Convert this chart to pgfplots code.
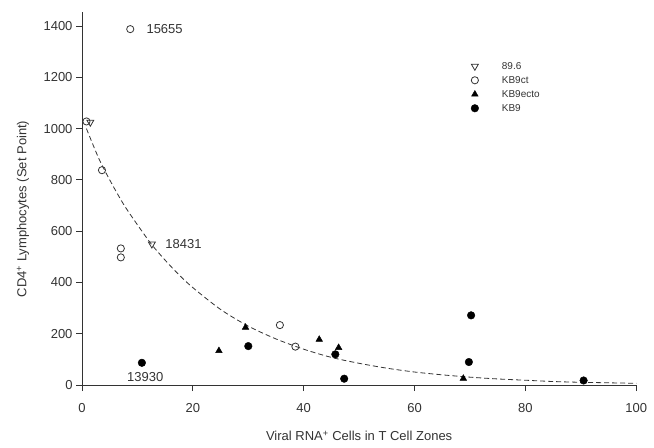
\documentclass[border=0pt]{standalone}
\usepackage{pgfplots}
\pgfplotsset{compat=1.18}
\usepackage{fontspec}
\setmainfont{Liberation Sans}
\definecolor{inkgray}{HTML}{333333}
\newcommand{\lblfont}{\fontsize{13}{15}\selectfont}

\begin{document}
\begin{tikzpicture}
\begin{axis}[
    scale only axis,
    width=554pt, height=373pt,
    xmin=0, xmax=100, ymin=0, ymax=1455,
    axis lines=left,
    axis line style={-, inkgray, line width=0.9pt},
    xtick={0,20,...,100}, ytick={0,200,...,1400},
    tick align=outside,
    major tick length=6pt,
    tick style={inkgray, line width=0.9pt},
    tick label style={font=\lblfont, text=inkgray},
    /pgf/number format/assume math mode=true,
    /pgf/number format/1000 sep={},
    xticklabel style={yshift=-9pt},
    xlabel={Viral RNA\textsuperscript{+} Cells in T Cell Zones},
    ylabel={CD4\textsuperscript{+} Lymphocytes (Set Point)},
    label style={font=\lblfont, text=inkgray},
    xlabel style={at={(axis description cs:0.5,-0.137)}, anchor=center},
    ylabel style={at={(axis description cs:-0.1065,0.472)}, anchor=center},
    clip=false,
    legend style={draw=none, fill=none, font=\fontsize{10}{11}\selectfont,
        at={(axis cs:69.4,1276)}, anchor=north west, row sep=1.5pt,
        text=inkgray},
    legend cell align=left,
    legend image code/.code={
        \draw[#1] plot coordinates {(0pt,0pt)};
        \path[draw=none, fill=none] (-5pt,-3pt) rectangle (25pt,3pt);
    },
]
% fitted decay curve
\addplot[forget plot, inkgray, dash pattern=on 5pt off 3pt, line width=0.8pt, smooth]
coordinates {
(0.8,1000) (3,885) (5,800) (7.5,705) (10,625) (12.5,550) (15,487)
(17.5,430) (20,380) (25,295) (30,230) (35,180) (40,140) (45,108)
(50,85) (55,66) (60,51) (65,40) (70,31) (75,24) (80,19) (85,14)
(90,11) (95,9) (100,7)
};
\addplot[only marks, mark=triangle, mark size=4pt, inkgray,
    mark options={rotate=180, fill=white, line width=0.8pt}]
coordinates {(1.5,1025) (12.6,550)};
\addlegendentry{89.6}
\addplot[only marks, mark=o, mark size=3.6pt, inkgray,
    mark options={line width=0.8pt}]
coordinates {(0.8,1028) (8.7,1388) (3.6,838) (7.0,533) (7.0,498)
(35.7,234) (38.5,150)};
\addlegendentry{KB9ct}
\addplot[only marks, mark=triangle*, mark size=3.8pt, black]
coordinates {(24.7,134) (29.5,225) (42.8,178) (46.3,146) (68.8,26)};
\addlegendentry{KB9ecto}
\addplot[only marks, mark=*, mark size=3.8pt, black]
coordinates {(10.8,87) (30.0,152) (45.7,120) (47.3,25) (70.2,272)
(69.8,90) (90.5,18)};
\addlegendentry{KB9}
\node[font=\lblfont, text=inkgray, anchor=west] at (axis cs:11.0,1388) {15655};
\node[font=\lblfont, text=inkgray, anchor=west] at (axis cs:14.4,550) {18431};
\node[font=\lblfont, text=inkgray, anchor=center] at (axis cs:11.4,31) {13930};
\coordinate (bbA) at (axis cs:-14.8,-242);
\coordinate (bbB) at (axis cs:103.2,1501.6);
\end{axis}
\pgfresetboundingbox
\path[use as bounding box] (bbA) rectangle (bbB);
\end{tikzpicture}
\end{document}
